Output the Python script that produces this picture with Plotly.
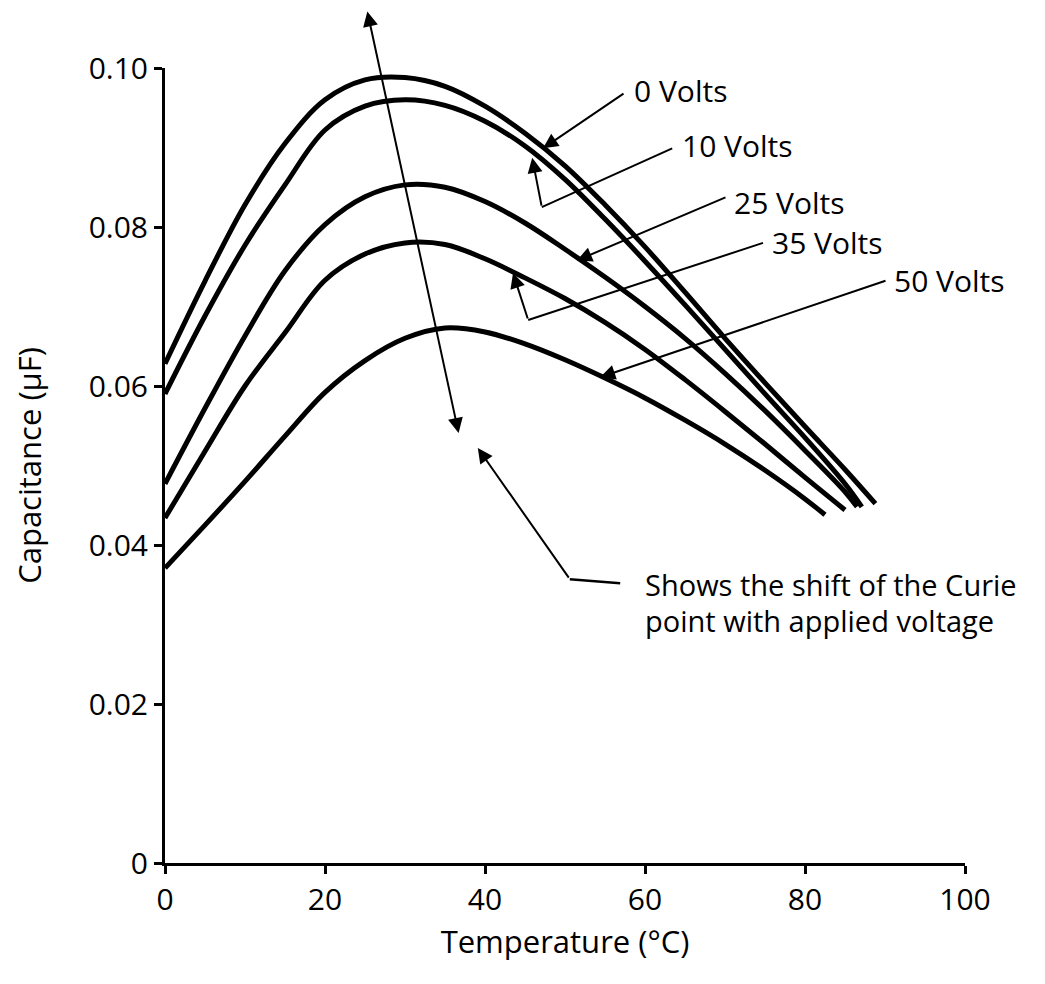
import plotly.graph_objects as go

# ---- data ----
temp_0v  = [0, 5, 10, 15, 20, 25, 30, 35, 40, 45, 50, 55, 60, 65, 70, 75, 80, 85, 88.8]
cap_0v   = [0.0628, 0.0732, 0.0828, 0.0905, 0.0960, 0.0985, 0.0988, 0.0977, 0.0952, 0.0918,
            0.0877, 0.0828, 0.0775, 0.0718, 0.0660, 0.0604, 0.0549, 0.0495, 0.0452]
temp_10v = [0, 5, 10, 15, 20, 25, 30, 35, 40, 45, 50, 55, 60, 65, 70, 75, 80, 85, 87.1]
cap_10v  = [0.0590, 0.0688, 0.0777, 0.0853, 0.0922, 0.0952, 0.0960, 0.0953, 0.0933, 0.0902,
            0.0860, 0.0810, 0.0757, 0.0702, 0.0646, 0.0590, 0.0535, 0.0477, 0.0448]
temp_25v = [0, 5, 10, 15, 20, 25, 30, 35, 40, 45, 50, 55, 60, 65, 70, 75, 80, 85, 86.5]
cap_25v  = [0.0477, 0.0572, 0.0663, 0.0745, 0.0803, 0.0838, 0.0853, 0.0850, 0.0832, 0.0805,
            0.0772, 0.0737, 0.0700, 0.0660, 0.0616, 0.0569, 0.0519, 0.0467, 0.0448]
temp_35v = [0, 5, 10, 15, 20, 25, 30, 35, 40, 45, 50, 55, 60, 65, 70, 75, 80, 85]
cap_35v  = [0.0434, 0.0518, 0.0600, 0.0667, 0.0733, 0.0766, 0.0780, 0.0778, 0.0760, 0.0736,
            0.0710, 0.0680, 0.0646, 0.0608, 0.0568, 0.0527, 0.0485, 0.0444]
temp_50v = [0, 5, 10, 15, 20, 25, 30, 35, 40, 45, 50, 55, 60, 65, 70, 75, 80, 82.5]
cap_50v  = [0.0371, 0.0425, 0.0480, 0.0537, 0.0592, 0.0632, 0.0660, 0.0673, 0.0668, 0.0653,
            0.0633, 0.0610, 0.0585, 0.0557, 0.0527, 0.0494, 0.0458, 0.0438]

series_names = ["0 Volts", "10 Volts", "25 Volts", "35 Volts", "50 Volts"]

x_ticks = [0, 20, 40, 60, 80, 100]
x_tick_labels = ["0", "20", "40", "60", "80", "100"]
y_ticks = [0, 0.02, 0.04, 0.06, 0.08, 0.10]
y_tick_labels = ["0", "0.02", "0.04", "0.06", "0.08", "0.10"]

# label text anchor (T, C), leader start, optional corner, arrow tip
label_text_pos = [(58.4, 0.0972), (64.4, 0.0902), (70.9, 0.0831), (75.6, 0.0780), (90.9, 0.0733)]
leader_start   = [(57.5, 0.0969), (63.4, 0.0899), (70.25, 0.0838), (74.75, 0.0780), (90.25, 0.0733)]
leader_corner  = [None, (47.1, 0.0825), None, (45.4, 0.0683), None]
leader_tip     = [(47.25, 0.0899), (45.9, 0.0887), (51.5, 0.0758), (43.5, 0.0742), (54.4, 0.0611)]

curie_arrow_top = (25.25, 0.1073)
curie_arrow_bottom = (36.7, 0.0541)
note_tip = (39.1, 0.0522)
note_bend = (50.6, 0.0357)
note_end = (56.9, 0.0352)
note_lines = ["Shows the shift of the Curie", "point with applied voltage"]
note_pos = [(59.8, 0.0350), (59.8, 0.0305)]

FONT = "Open Sans"
TXT = 30
fig = go.Figure()

all_t = [temp_0v, temp_10v, temp_25v, temp_35v, temp_50v]
all_c = [cap_0v, cap_10v, cap_25v, cap_35v, cap_50v]
for name, t, c in zip(series_names, all_t, all_c):
    fig.add_trace(go.Scatter(x=t, y=c, mode="lines", name=name,
                             line=dict(color="black", width=5, shape="spline", smoothing=1.0),
                             showlegend=False, hoverinfo="x+y+name"))

annotations = []
shapes = []
for i, name in enumerate(series_names):
    tx, ty = label_text_pos[i]
    annotations.append(dict(x=tx, y=ty, xref="x", yref="y", text=name, showarrow=False,
                            xanchor="left", yanchor="middle",
                            font=dict(family=FONT, size=TXT, color="black")))
    sx, sy = leader_start[i]
    tipx, tipy = leader_tip[i]
    if leader_corner[i] is None:
        annotations.append(dict(x=tipx, y=tipy, ax=sx, ay=sy, xref="x", yref="y",
                                axref="x", ayref="y", text="", showarrow=True,
                                arrowhead=2, arrowsize=1.5, arrowwidth=2, arrowcolor="black"))
    else:
        cx, cy = leader_corner[i]
        shapes.append(dict(type="line", xref="x", yref="y", x0=sx, y0=sy, x1=cx, y1=cy,
                           line=dict(color="black", width=2)))
        annotations.append(dict(x=tipx, y=tipy, ax=cx, ay=cy, xref="x", yref="y",
                                axref="x", ayref="y", text="", showarrow=True,
                                arrowhead=2, arrowsize=1.5, arrowwidth=2, arrowcolor="black"))

# Curie shift double arrow
annotations.append(dict(x=curie_arrow_bottom[0], y=curie_arrow_bottom[1],
                        ax=curie_arrow_top[0], ay=curie_arrow_top[1],
                        xref="x", yref="y", axref="x", ayref="y", text="", showarrow=True,
                        arrowhead=2, startarrowhead=2, arrowside="end+start",
                        arrowsize=1.5, startarrowsize=1.5, arrowwidth=2, arrowcolor="black"))
# note pointer
shapes.append(dict(type="path", xref="x", yref="y",
                   path=f"M {note_end[0]},{note_end[1]} L {note_bend[0]},{note_bend[1]}",
                   line=dict(color="black", width=2.5)))
annotations.append(dict(x=note_tip[0], y=note_tip[1], ax=note_bend[0], ay=note_bend[1],
                        xref="x", yref="y", axref="x", ayref="y", text="", showarrow=True,
                        arrowhead=2, arrowsize=1.5, arrowwidth=2, arrowcolor="black"))
for line_text, (nx, ny) in zip(note_lines, note_pos):
    annotations.append(dict(x=nx, y=ny, xref="x", yref="y", text=line_text, showarrow=False,
                            xanchor="left", yanchor="middle",
                            font=dict(family=FONT, size=TXT - 1, color="black")))

fig.update_layout(
    width=1045, height=984,
    margin=dict(l=165, r=80, t=68, b=121),
    paper_bgcolor="white", plot_bgcolor="white",
    font=dict(family=FONT, size=TXT, color="black"),
    annotations=annotations, shapes=shapes,
    xaxis=dict(range=[0, 100], tickvals=x_ticks, ticktext=x_tick_labels,
               showline=True, linecolor="black", linewidth=3, showgrid=False, zeroline=False,
               ticks="outside", ticklen=8, tickwidth=2.5, tickcolor="black",
               tickfont=dict(family=FONT, size=TXT),
               title=dict(text="Temperature (°C)", font=dict(family=FONT, size=31), standoff=14)),
    yaxis=dict(range=[0, 0.10], tickvals=y_ticks, ticktext=y_tick_labels,
               showline=True, linecolor="black", linewidth=3, showgrid=False, zeroline=False,
               ticks="outside", ticklen=8, tickwidth=2.5, tickcolor="black",
               tickfont=dict(family=FONT, size=TXT),
               title=dict(text="Capacitance (\u03bcF)", font=dict(family=FONT, size=31), standoff=38)),
)

fig.write_html("out.html")
